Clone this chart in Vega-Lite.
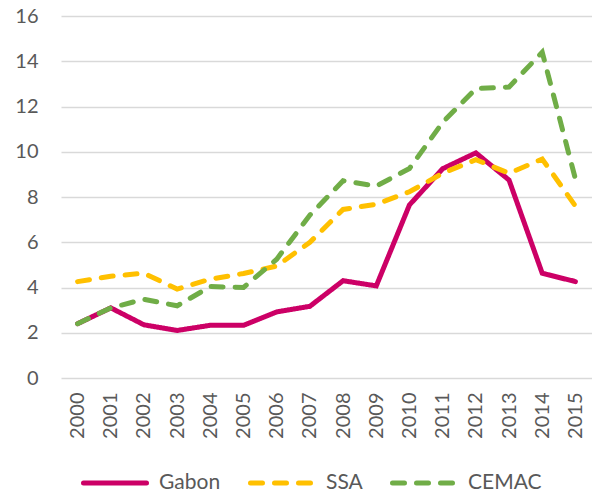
{
  "$schema": "https://vega.github.io/schema/vega-lite/v6.json",
  "autosize": {"type": "none"},
  "width": 531,
  "height": 362,
  "padding": {"left": 61, "top": 16, "right": 0, "bottom": 115},
  "background": "white",
  "data": {"values": [
    {"year": "2000", "series": "Gabon", "value": 2.4},
    {"year": "2001", "series": "Gabon", "value": 3.1},
    {"year": "2002", "series": "Gabon", "value": 2.35},
    {"year": "2003", "series": "Gabon", "value": 2.1},
    {"year": "2004", "series": "Gabon", "value": 2.33},
    {"year": "2005", "series": "Gabon", "value": 2.33},
    {"year": "2006", "series": "Gabon", "value": 2.92},
    {"year": "2007", "series": "Gabon", "value": 3.17},
    {"year": "2008", "series": "Gabon", "value": 4.3},
    {"year": "2009", "series": "Gabon", "value": 4.07},
    {"year": "2010", "series": "Gabon", "value": 7.65},
    {"year": "2011", "series": "Gabon", "value": 9.25},
    {"year": "2012", "series": "Gabon", "value": 9.95},
    {"year": "2013", "series": "Gabon", "value": 8.75},
    {"year": "2014", "series": "Gabon", "value": 4.63},
    {"year": "2015", "series": "Gabon", "value": 4.26},
    {"year": "2000", "series": "SSA", "value": 4.26},
    {"year": "2001", "series": "SSA", "value": 4.5},
    {"year": "2002", "series": "SSA", "value": 4.63},
    {"year": "2003", "series": "SSA", "value": 3.93},
    {"year": "2004", "series": "SSA", "value": 4.37},
    {"year": "2005", "series": "SSA", "value": 4.62},
    {"year": "2006", "series": "SSA", "value": 4.95},
    {"year": "2007", "series": "SSA", "value": 6.0},
    {"year": "2008", "series": "SSA", "value": 7.45},
    {"year": "2009", "series": "SSA", "value": 7.68},
    {"year": "2010", "series": "SSA", "value": 8.23},
    {"year": "2011", "series": "SSA", "value": 9.05},
    {"year": "2012", "series": "SSA", "value": 9.65},
    {"year": "2013", "series": "SSA", "value": 9.05},
    {"year": "2014", "series": "SSA", "value": 9.68},
    {"year": "2015", "series": "SSA", "value": 7.6},
    {"year": "2000", "series": "CEMAC", "value": 2.4},
    {"year": "2001", "series": "CEMAC", "value": 3.1},
    {"year": "2002", "series": "CEMAC", "value": 3.48},
    {"year": "2003", "series": "CEMAC", "value": 3.19},
    {"year": "2004", "series": "CEMAC", "value": 4.04},
    {"year": "2005", "series": "CEMAC", "value": 4.0},
    {"year": "2006", "series": "CEMAC", "value": 5.25},
    {"year": "2007", "series": "CEMAC", "value": 7.2},
    {"year": "2008", "series": "CEMAC", "value": 8.72},
    {"year": "2009", "series": "CEMAC", "value": 8.48},
    {"year": "2010", "series": "CEMAC", "value": 9.26},
    {"year": "2011", "series": "CEMAC", "value": 11.3},
    {"year": "2012", "series": "CEMAC", "value": 12.79},
    {"year": "2013", "series": "CEMAC", "value": 12.86},
    {"year": "2014", "series": "CEMAC", "value": 14.4},
    {"year": "2015", "series": "CEMAC", "value": 8.8}
  ]},
  "mark": {"type": "line", "strokeWidth": 5, "strokeCap": "round", "strokeJoin": "miter"},
  "encoding": {
    "x": {
      "field": "year", "type": "ordinal",
      "scale": {"type": "point", "padding": 0.5},
      "axis": {"title": null, "labelAngle": 270, "labelPadding": 14, "ticks": false, "domain": false, "grid": false,
               "labelFont": "Lato", "labelFontSize": 20, "labelColor": "#595959"}
    },
    "y": {
      "field": "value", "type": "quantitative",
      "scale": {"domain": [0, 16], "nice": false},
      "axis": {"title": null, "values": [0, 2, 4, 6, 8, 10, 12, 14, 16], "ticks": false, "domain": false,
               "labelPadding": 23, "labelFont": "Lato", "labelFontSize": 20, "labelColor": "#595959",
               "gridColor": "#D9D9D9", "gridWidth": 1.5}
    },
    "color": {
      "field": "series", "type": "nominal",
      "scale": {"domain": ["Gabon", "SSA", "CEMAC"], "range": ["#CC0066", "#FFC000", "#70AD47"]},
      "legend": {
        "title": null, "orient": "none", "direction": "horizontal", "legendX": 20, "legendY": 433,
        "symbolType": "stroke", "symbolSize": 3969, "symbolStrokeWidth": 5,
        "labelFont": "Lato", "labelFontSize": 21, "labelColor": "#595959", "labelOffset": 10,
        "columnPadding": 19,
        "encode": {"symbols": {"update": {"strokeCap": {"value": "round"}}}}
      }
    },
    "strokeDash": {
      "field": "series", "type": "nominal",
      "scale": {"domain": ["Gabon", "SSA", "CEMAC"], "range": [[1, 0], [12, 12], [12, 12]]},
      "legend": {
        "title": null, "orient": "none", "direction": "horizontal", "legendX": 20, "legendY": 433,
        "symbolType": "stroke", "symbolSize": 3969, "symbolStrokeWidth": 5,
        "labelFont": "Lato", "labelFontSize": 21, "labelColor": "#595959", "labelOffset": 10,
        "columnPadding": 19,
        "encode": {"symbols": {"update": {"strokeCap": {"value": "round"}}}}
      }
    }
  },
  "config": {"view": {"stroke": null}}
}
